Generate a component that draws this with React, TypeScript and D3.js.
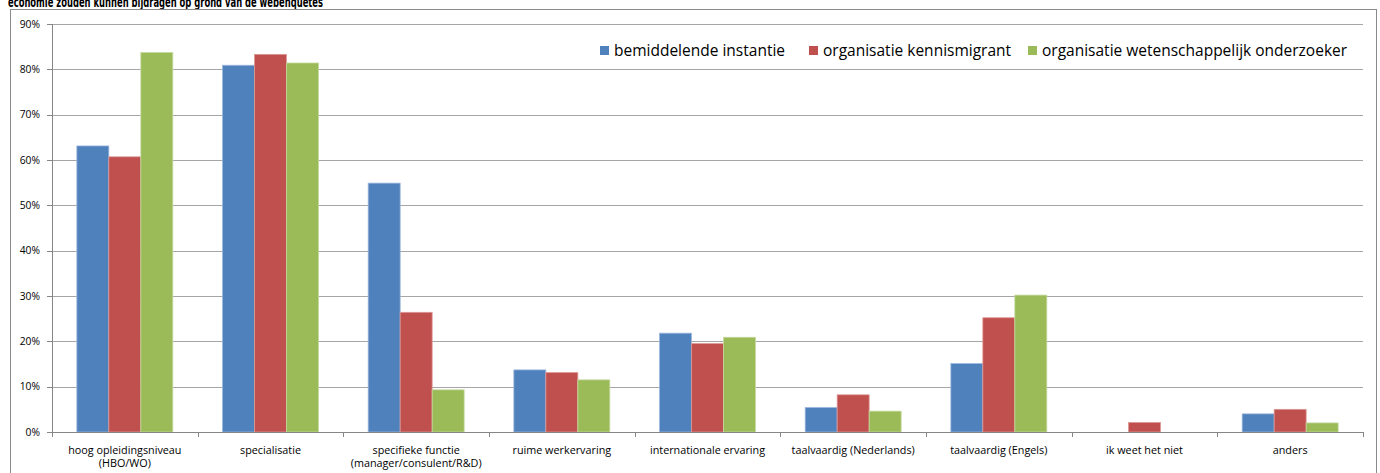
import React from "react";
import * as d3 from "d3";

const categories: string[][] = [
  ["hoog opleidingsniveau", "(HBO/WO)"],
  ["specialisatie"],
  ["specifieke functie", "(manager/consulent/R&D)"],
  ["ruime werkervaring"],
  ["internationale ervaring"],
  ["taalvaardig (Nederlands)"],
  ["taalvaardig (Engels)"],
  ["ik weet het niet"],
  ["anders"],
];
const seriesNames = [
  "bemiddelende instantie",
  "organisatie kennismigrant",
  "organisatie wetenschappelijk onderzoeker",
];
const bemiddelende = [63.1, 80.9, 54.9, 13.7, 21.8, 5.4, 15.1, 0, 4.0];
const kennismigrant = [60.7, 83.3, 26.4, 13.1, 19.5, 8.2, 25.2, 2.1, 5.0];
const onderzoeker = [83.7, 81.4, 9.3, 11.5, 20.9, 4.6, 30.2, 0, 2.0];
const yTicks = [0, 10, 20, 30, 40, 50, 60, 70, 80, 90];
const title = "economie zouden kunnen bijdragen op grond van de webenquetes";

const colors = ["#4F81BD", "#C0504D", "#9BBB59"];
const strokes = ["#9db7dc", "#dc9896", "#c5d99e"];

export default function App() {
  const W = 1380, H = 473;
  const left = 52, right = 1363, top = 24, bottom = 432;
  const x = d3.scaleBand<number>().domain(categories.map((_, i) => i)).range([left, right]).paddingInner(0).paddingOuter(0);
  const inner = d3.scaleBand<number>().domain([0, 1, 2]).range([0, x.bandwidth()]).paddingOuter(0.777).paddingInner(0);
  const y = d3.scaleLinear().domain([0, 90]).range([bottom, top]);
  const series = [bemiddelende, kennismigrant, onderzoeker];
  const font = "'Open Sans', Lato, sans-serif";
  const legendX = [600, 809, 1028];

  return (
    <svg width={W} height={H} style={{ position: "absolute", left: 0, top: 0, background: "#fff" }}>
      <text x={8} y={7} fontFamily="'DejaVu Sans', sans-serif" fontWeight="bold" fontSize={14} textLength={315} lengthAdjust="spacingAndGlyphs" fill="#000">{title}</text>
      <rect x={10.5} y={9.5} width={1366} height={480} fill="none" stroke="#8a8a8a" strokeWidth={1} />
      {yTicks.map((t) => (
        <g key={t}>
          {t > 0 && <line x1={left} x2={right} y1={Math.round(y(t)) + 0.5} y2={Math.round(y(t)) + 0.5} stroke="#a6a6a6" strokeWidth={1} />}
          <line x1={left - 5} x2={left} y1={Math.round(y(t)) + 0.5} y2={Math.round(y(t)) + 0.5} stroke="#868686" />
          <text x={40} y={y(t)} dy="0.35em" textAnchor="end" fontFamily={font} fontSize={10.3} fill="#000">{t}%</text>
        </g>
      ))}
      {series.map((vals, s) =>
        vals.map((v, i) =>
          v > 0 ? (
            <rect key={`${s}-${i}`} x={(x(i) as number) + (inner(s) as number)} y={y(v)} width={inner.bandwidth()} height={bottom - y(v)} fill={colors[s]} stroke={strokes[s]} strokeWidth={0.8} />
          ) : null
        )
      )}
      <line x1={left + 0.5} x2={left + 0.5} y1={top} y2={bottom} stroke="#868686" />
      <line x1={left} x2={right} y1={bottom + 0.5} y2={bottom + 0.5} stroke="#868686" />
      {d3.range(categories.length + 1).map((k) => {
        const xx = Math.round(left + k * x.bandwidth()) + 0.5;
        return <line key={k} x1={xx} x2={xx} y1={bottom} y2={bottom + 5} stroke="#868686" />;
      })}
      {categories.map((lines, i) => (
        <text key={i} x={(x(i) as number) + x.bandwidth() / 2} y={454} textAnchor="middle" fontFamily={font} fontSize={10.8} fill="#000">
          {lines.map((l, j) => (
            <tspan key={j} x={(x(i) as number) + x.bandwidth() / 2} dy={j === 0 ? 0 : 13}>{l}</tspan>
          ))}
        </text>
      ))}
      {seriesNames.map((n, s) => (
        <g key={n}>
          <rect x={legendX[s]} y={46} width={9} height={9} fill={colors[s]} />
          <text x={legendX[s] + 14} y={51} dy="0.35em" fontFamily={font} fontSize={15.5} fill="#000">{n}</text>
        </g>
      ))}
    </svg>
  );
}
